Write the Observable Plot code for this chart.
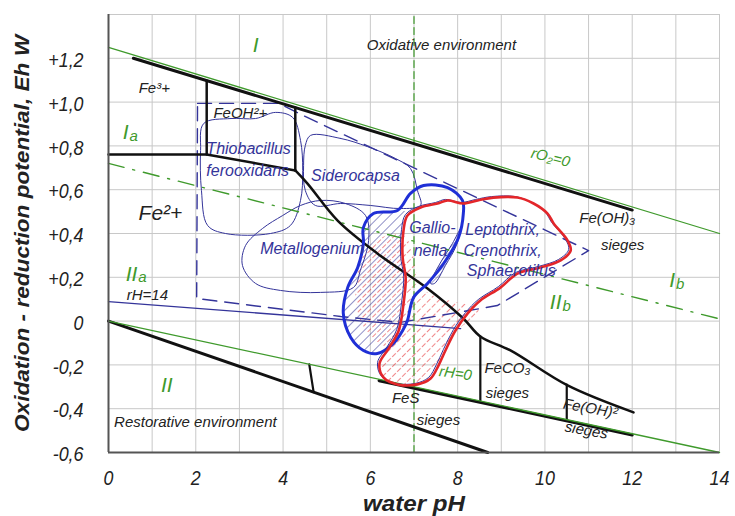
<!DOCTYPE html>
<html><head><meta charset="utf-8">
<script src="https://cdn.jsdelivr.net/npm/d3@7"></script>
<script src="https://cdn.jsdelivr.net/npm/@observablehq/plot@0.6"></script>
<style>body{margin:0;background:#fff}</style>
</head><body><div id="chart"></div>
<script>
// ---- axis ticks ----
const xTicks = [0,2,4,6,8,10,12,14];
const xGrid = [0,1,2,3,4,5,6,7,8,9,10,11,12,13,14];
const yTicks = [1.2,1.0,0.8,0.6,0.4,0.2,0,-0.2,-0.4,-0.6];
const yTickLabels = ["+1,2","+1,0","+0,8","+0,6","+0,4","+0,2","0","-0,2","-0,4","-0,6"];
const yGrid = [-0.6,-0.4,-0.2,0,0.2,0.4,0.6,0.8,1.0,1.2,1.4];

// ---- boundary lines [pH, Eh] ----
const greenUpper = [[0,1.25],[14,0.40]];
const blackUpper = [[0.57,1.20],[12,0.507]];
const greenLower = [[0,0],[14,-0.6]];
const blackLowerOnGreen = [[6.2,-0.272],[12,-0.52]];
const blackLowest = [[0,0],[8.69,-0.6]];
const smallVertical = [[4.6,-0.197],[4.7,-0.324]];
const fe3Vertical = [[2.25,1.098],[2.25,0.761]];
const fe3Horizontal = [[0,0.761],[2.25,0.761],[4.28,0.688]];
const feoh2Vertical = [[4.28,0.975],[4.28,0.688]];
const fe2Curve = [[4.28,0.688],[4.56,0.628],[5.25,0.459],[6.16,0.309],[7.31,0.149],[8.13,0.012],[8.52,-0.07],[9.21,-0.134],[10.52,-0.294],[12.03,-0.417]];
const feco3Vertical = [[8.52,-0.07],[8.52,-0.365]];
const feoh2SiegeVertical = [[10.5,-0.29],[10.5,-0.45]];
const rH14 = [[0,0.089],[8.07,-0.034]];
const dashDotGreen = [[0,0.72],[14,0.01]];
const neutralLine = [[7,-0.6],[7,1.4]];
const dashedArea = [[2.04,0.994],[3.9,0.994],[4.45,0.94],[11.0,0.322],[8.91,0.071],[6.69,-0.006],[5.32,0.021],[2.02,0.103],[2.04,0.994]];

// ---- organism areas [pH, Eh] ----
const thiobacillus = [[2.18,0.902],[2.80,0.925],[3.37,0.925],[3.83,0.953],[4.22,0.930],[4.40,0.825],[4.45,0.688],[4.40,0.551],[4.17,0.437],[3.71,0.400],[2.68,0.400],[2.27,0.437],[2.13,0.596],[2.11,0.779]];
const siderocapsa = [[4.63,0.848],[5.32,0.834],[5.93,0.797],[6.58,0.742],[6.92,0.697],[7.08,0.596],[7.15,0.528],[6.69,0.514],[6.00,0.528],[5.32,0.537],[4.74,0.528],[4.51,0.596],[4.47,0.711],[4.51,0.802]];
const metallogenium = [[4.40,0.528],[4.86,0.551],[5.43,0.537],[5.89,0.482],[5.96,0.368],[5.77,0.231],[5.61,0.153],[4.86,0.131],[3.94,0.140],[3.37,0.172],[3.07,0.254],[3.14,0.345],[3.53,0.423],[3.99,0.482]];
const gallionella = [[5.84,0.427],[6.07,0.491],[6.62,0.505],[6.92,0.583],[7.22,0.619],[7.77,0.610],[8.11,0.551],[8.13,0.491],[8.02,0.382],[7.68,0.263],[7.31,0.172],[6.99,0.108],[6.85,0.003],[6.74,-0.043],[6.53,-0.102],[6.16,-0.148],[5.84,-0.134],[5.55,-0.075],[5.38,0.035],[5.48,0.153],[5.71,0.245],[5.84,0.354]];
const gallionellaHatched = [[5.84,0.427],[6.07,0.491],[6.5,0.5],[6.8,0.5],[6.76,0.414],[6.74,0.29],[6.81,0.199],[6.76,0.08],[6.7,-0.02],[6.53,-0.102],[6.16,-0.148],[5.84,-0.134],[5.55,-0.075],[5.38,0.035],[5.48,0.153],[5.71,0.245],[5.84,0.354]];
const gallionellaCore = [[7.38,0.172],[7.61,0.268],[7.88,0.354],[8.07,0.423],[7.97,0.345],[7.72,0.254],[7.47,0.172]];
const leptothrix = [[7.77,0.551],[8.13,0.537],[8.46,0.551],[8.82,0.564],[9.37,0.564],[9.74,0.537],[10.06,0.491],[10.20,0.446],[10.52,0.368],[10.59,0.322],[10.36,0.277],[9.90,0.245],[9.37,0.217],[8.98,0.153],[8.52,0.094],[8.23,0.035],[7.95,-0.043],[7.72,-0.134],[7.56,-0.203],[7.38,-0.262],[7.08,-0.289],[6.62,-0.289],[6.30,-0.257],[6.21,-0.194],[6.42,-0.125],[6.65,-0.043],[6.76,0.080],[6.81,0.199],[6.74,0.290],[6.76,0.414],[6.85,0.482],[7.15,0.519],[7.54,0.537]];
const leptothrixHatched = [[5.96,0.345],[6.76,0.391],[7.26,0.140],[8.48,0.048],[7.95,-0.052],[7.56,-0.203],[7.08,-0.289],[6.62,-0.289],[6.30,-0.257],[6.23,-0.194],[6.42,-0.134],[6.12,-0.089],[5.77,0.003],[5.66,0.140]];

// ---- labels [text, pH, Eh] ----
const greenLabels = [["I",3.44,1.258],["I",0.46,0.861],["II",0.66,0.212],["II",1.47,-0.294],["I",12.98,0.185],["II",10.38,0.085]];
const greenSubs = [["a",0.46,0.845],["a",0.66,0.199],["b",12.98,0.169],["b",10.38,0.069]];
const blackLabels = [["Oxidative environment",7.63,1.258],["Restorative environment",1.99,-0.463],["Fe³+",1.05,1.062],["FeOH²+",3.02,0.948],["rH=14",0.89,0.12],["Fe(OH)₃",11.43,0.469],["sieges",11.78,0.345],["FeCO₃",9.14,-0.216],["sieges",9.14,-0.330],["FeS",6.81,-0.353],["sieges",7.56,-0.454]];
const fe2Label = [["Fe²+",1.19,0.491]];
const tiltedBlackLabels = [["Fe(OH)²",11.04,-0.399],["sieges",10.95,-0.499]];
const blueLabels = [["Thiobacillus",3.21,0.788],["ferooxidans",3.19,0.688],["Siderocapsa",5.66,0.665],["Metallogenium",4.67,0.332],["Gallio-",7.42,0.427],["nella",7.38,0.322],["Leptothrix,",9.03,0.418],["Crenothrix,",9.03,0.322],["Sphaerotilus",9.23,0.231]];
const rO2Label = [["rO₂=0",10.13,0.747]];
const rH0Label = [["rH=0",7.95,-0.239]];
const xTitle = "water pH";
const yTitle = "Oxidation - reduction potential, Eh W";

const FONT = "'Liberation Sans',Arial,sans-serif";
const GREEN = "#3f9a2c", BLACK = "#111", BLUE = "#34349a", GBLUE = "#1f2fd6", RED = "#e3262a";
const yMap = new Map(yTicks.map((t,i)=>[t.toFixed(1), yTickLabels[i]]));
const px = d => d[0], py = d => d[1];
const ln = (data, o) => Plot.line(data, {x: px, y: py, ...o});
const txt = (data, o) => Plot.text(data, {x: d=>d[1], y: d=>d[2], text: d=>d[0], fontFamily: FONT, fontStyle: "italic", ...o});

const svg = Plot.plot({
  width: 735, height: 516,
  marginLeft: 108, marginRight: 16, marginTop: 14, marginBottom: 64,
  x: {domain: [0,14]},
  y: {domain: [-0.6,1.4]},
  style: {fontFamily: FONT, background: "#fff"},
  marks: [
    Plot.gridX(xGrid, {stroke: "#c8c8c8", strokeOpacity: 1, strokeWidth: 1}),
    Plot.gridY(yGrid, {stroke: "#c8c8c8", strokeOpacity: 1, strokeWidth: 1}),
    Plot.axisX(xTicks, {tickSize: 0, tickPadding: 18, fontSize: 21, fontStyle: "italic", fontFamily: FONT, label: null, fill: "#222"}),
    Plot.axisY(yTicks, {tickSize: 0, tickPadding: 25, fontSize: 21, fontStyle: "italic", fontFamily: FONT, label: null, fill: "#222", dy: 2, tickFormat: d => yMap.get((+d).toFixed(1))}),
    // organism hatched areas
    ln(leptothrixHatched, {curve: "catmull-rom-closed", fill: "url(#hatchRed)", stroke: "none"}),
    ln(gallionellaHatched, {curve: "catmull-rom-closed", fill: "url(#hatchBlue)", stroke: "none"}),
    ln(gallionellaCore, {curve: "catmull-rom-closed", fill: "url(#hatchDense)", stroke: BLUE, strokeWidth: 1}),
    // thin organism outlines
    ln(thiobacillus, {curve: "catmull-rom-closed", stroke: BLUE, strokeWidth: 1}),
    ln(siderocapsa, {curve: "catmull-rom-closed", stroke: BLUE, strokeWidth: 1}),
    ln(metallogenium, {curve: "catmull-rom-closed", stroke: BLUE, strokeWidth: 1}),
    ln(dashedArea, {stroke: BLUE, strokeWidth: 1.4, strokeDasharray: "14,8"}),
    ln(rH14, {stroke: BLUE, strokeWidth: 1.3}),
    // green lines
    ln(neutralLine, {stroke: GREEN, strokeWidth: 1.2, strokeDasharray: "7,4"}),
    ln(dashDotGreen, {stroke: GREEN, strokeWidth: 1.4, strokeDasharray: "16,9,2,9"}),
    // black boundaries
    ln(blackUpper, {stroke: BLACK, strokeWidth: 3}),
    ln(fe3Vertical, {stroke: BLACK, strokeWidth: 2.5}),
    ln(fe3Horizontal, {stroke: BLACK, strokeWidth: 2.5}),
    ln(feoh2Vertical, {stroke: BLACK, strokeWidth: 2.5}),
    ln(fe2Curve, {stroke: BLACK, strokeWidth: 2.5, curve: "catmull-rom"}),
    ln(feco3Vertical, {stroke: BLACK, strokeWidth: 2.2}),
    ln(feoh2SiegeVertical, {stroke: BLACK, strokeWidth: 2.2}),
    ln(blackLowerOnGreen, {stroke: BLACK, strokeWidth: 3}),
    ln(blackLowest, {stroke: BLACK, strokeWidth: 3}),
    ln(smallVertical, {stroke: BLACK, strokeWidth: 2.2}),
    ln(greenUpper, {stroke: GREEN, strokeWidth: 1.3}),
    ln(greenLower, {stroke: GREEN, strokeWidth: 1.3}),
    // strong outlines
    ln(gallionella, {curve: "catmull-rom-closed", stroke: GBLUE, strokeWidth: 3}),
    ln(leptothrix, {curve: "catmull-rom-closed", stroke: BLUE, strokeWidth: 1, dx: -2, dy: -1}),
    ln(leptothrix, {curve: "catmull-rom-closed", stroke: RED, strokeWidth: 2.6}),
    // frame (left & bottom)
    Plot.ruleX([0], {stroke: "#555", strokeWidth: 2}),
    Plot.ruleY([-0.6], {stroke: "#555", strokeWidth: 2}),
    // labels
    txt(greenLabels, {fill: GREEN, fontSize: 21, textAnchor: "end"}),
    txt(greenSubs, {fill: GREEN, fontSize: 15, textAnchor: "start", dx: 1}),
    txt(rO2Label, {fill: GREEN, fontSize: 15, rotate: 14}),
    txt(rH0Label, {fill: GREEN, fontSize: 15, rotate: 8}),
    txt(blackLabels, {fill: "#222", fontSize: 15}),
    txt(fe2Label, {fill: "#222", fontSize: 21}),
    txt(tiltedBlackLabels, {fill: "#222", fontSize: 15, rotate: 10}),
    txt(blueLabels, {fill: BLUE, fontSize: 16}),
    Plot.text([xTitle], {frameAnchor: "bottom", textAnchor: "middle", lineAnchor: "middle", dy: 51, fontSize: 22, fontWeight: "bold", fontStyle: "italic", fontFamily: FONT, fill: "#222"}),
    Plot.text([yTitle], {frameAnchor: "left", textAnchor: "middle", lineAnchor: "middle", dx: -86, rotate: -90, fontSize: 20, fontWeight: "bold", fontStyle: "italic", fontFamily: FONT, fill: "#222"})
  ]
});

const NS = "http://www.w3.org/2000/svg";
const defs = document.createElementNS(NS, "defs");
defs.innerHTML = `
<pattern id="hatchBlue" patternUnits="userSpaceOnUse" width="7" height="7" patternTransform="rotate(45)">
  <line x1="0" y1="0" x2="0" y2="7" stroke="${BLUE}" stroke-width="1.1"/></pattern>
<pattern id="hatchDense" patternUnits="userSpaceOnUse" width="3" height="3" patternTransform="rotate(45)">
  <line x1="0" y1="0" x2="0" y2="3" stroke="${BLUE}" stroke-width="0.9"/></pattern>
<pattern id="hatchRed" patternUnits="userSpaceOnUse" width="7" height="7" patternTransform="rotate(45) translate(3.5,0)">
  <line x1="0" y1="0" x2="0" y2="7" stroke="${RED}" stroke-width="1.1" stroke-dasharray="3,2"/></pattern>`;
svg.prepend(defs);
document.getElementById("chart").append(svg);

// condense axis texts to imitate the narrow typeface of the original
const tickSet = new Set(yTickLabels.concat(xTicks.map(String)));
svg.querySelectorAll("text").forEach(t => {
  const s = (t.textContent || "").trim();
  let target = null;
  if (s.includes("Oxidation")) target = 397;
  else if (s.includes("water")) target = 102;
  else if (tickSet.has(s)) target = t.getComputedTextLength() * 0.85;
  if (target != null) {
    t.setAttribute("textLength", target.toFixed(1));
    t.setAttribute("lengthAdjust", "spacingAndGlyphs");
  }
});
</script>
</body></html>
